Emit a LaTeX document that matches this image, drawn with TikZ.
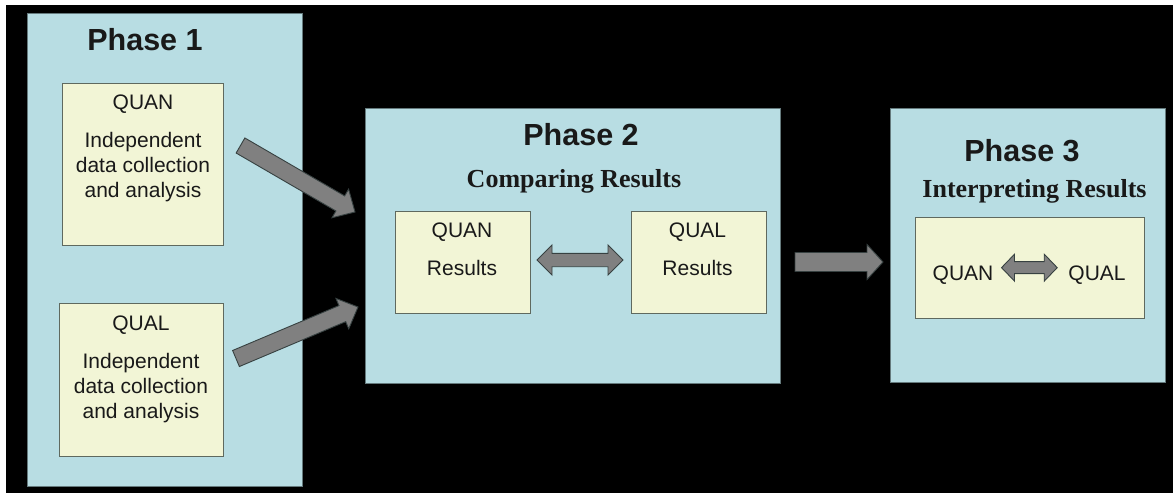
\documentclass[tikz,border=0pt]{standalone}
\usepackage{fontspec}
\setmainfont{Liberation Sans}
\newfontfamily\serifbf{Liberation Serif}
\usetikzlibrary{calc}
\definecolor{phasebg}{RGB}{184,221,227}
\definecolor{boxbg}{RGB}{242,245,214}
\definecolor{boxline}{RGB}{95,105,95}
\definecolor{arrowfill}{RGB}{128,128,128}
\definecolor{arrowline}{RGB}{55,65,65}
\definecolor{txt}{RGB}{25,25,25}
\tikzset{
 phasebox/.style={fill=phasebg, draw=phasebg!55!black, line width=0.6pt, inner sep=0pt},
 innerbox/.style={fill=boxbg, draw=boxline, line width=1pt, inner sep=0pt},
 phasetitle/.style={anchor=base, font=\fontsize{30.5}{36}\selectfont\bfseries, text=txt, inner sep=0pt},
 phasesub/.style={anchor=base, font=\fontsize{26}{30}\selectfont\serifbf\bfseries, text=txt, inner sep=0pt},
 txtlabel/.style={anchor=base, font=\fontsize{21}{25}\selectfont, text=txt, inner sep=0pt},
 fatarrow/.style={fill=arrowfill, draw=arrowline, line width=0.9pt, line join=miter},
}
% single fat arrow: #1 from, #2 to, #3 half shaft, #4 half head, #5 head length
\newcommand{\onearrow}[5]{%
  \coordinate (fac) at ($(#2)!#5!(#1)$);
  \draw[fatarrow] ($(#1)!#3!90:(#2)$) -- ($(fac)!#3!90:(#2)$) -- ($(fac)!#4!90:(#2)$) -- (#2)
    -- ($(fac)!#4!-90:(#2)$) -- ($(fac)!#3!-90:(#2)$) -- ($(#1)!#3!-90:(#2)$) -- cycle;}
% double fat arrow
\newcommand{\twoarrow}[5]{%
  \coordinate (fac) at ($(#2)!#5!(#1)$);
  \coordinate (fab) at ($(#1)!#5!(#2)$);
  \draw[fatarrow] (#1) -- ($(fab)!#4!90:(#2)$) -- ($(fab)!#3!90:(#2)$) -- ($(fac)!#3!90:(#2)$)
    -- ($(fac)!#4!90:(#2)$) -- (#2) -- ($(fac)!#4!-90:(#2)$) -- ($(fac)!#3!-90:(#2)$)
    -- ($(fab)!#3!-90:(#2)$) -- ($(fab)!#4!-90:(#2)$) -- cycle;}
\begin{document}
\begin{tikzpicture}[x=1pt,y=-1pt]
\useasboundingbox (0,0) rectangle (1173,493);
\fill[white] (0,0) rectangle (1173,493);
\fill[black] (6,5) rectangle (1173,493);

% Phase boxes
\node[phasebox, minimum width=275pt, minimum height=473pt] (p1) at (164.5,249.5) {};
\node[phasebox, minimum width=415pt, minimum height=275pt] (p2) at (572.5,245.5) {};
\node[phasebox, minimum width=275pt, minimum height=274pt] (p3) at (1027.5,245) {};

% Phase 1
\node[phasetitle] (t1) at (145,50) {Phase 1};
\node[innerbox, minimum width=161pt, minimum height=162pt] (quan1) at (142.5,164) {};
\node[txtlabel] (quan1a) at (143,109) {QUAN};
\node[txtlabel] (quan1b) at (143,147) {Independent};
\node[txtlabel] (quan1c) at (143,172) {data collection};
\node[txtlabel] (quan1d) at (143,197) {and analysis};
\node[innerbox, minimum width=164pt, minimum height=153pt] (qual1) at (141,379.5) {};
\node[txtlabel] (qual1a) at (141,330) {QUAL};
\node[txtlabel] (qual1b) at (141,368) {Independent};
\node[txtlabel] (qual1c) at (141,393) {data collection};
\node[txtlabel] (qual1d) at (141,418) {and analysis};

% Phase 2
\node[phasetitle] (t2) at (581,145) {Phase 2};
\node[phasesub] (s2) at (574,187) {Comparing Results};
\node[innerbox, minimum width=135pt, minimum height=102pt] (quan2) at (462.5,262) {};
\node[txtlabel] (quan2a) at (462,237) {QUAN};
\node[txtlabel] (quan2b) at (462,275) {Results};
\node[innerbox, minimum width=135pt, minimum height=102pt] (qual2) at (698.5,262) {};
\node[txtlabel] (qual2a) at (697.5,237) {QUAL};
\node[txtlabel] (qual2b) at (697.5,275) {Results};

% Phase 3
\node[phasetitle] (t3) at (1022,161) {Phase 3};
\node[phasesub] (s3) at (1034.5,197) {Interpreting Results};
\node[innerbox, minimum width=229pt, minimum height=101pt] (both3) at (1029.5,267.5) {};
\node[txtlabel] (quan3) at (963,280) {QUAN};
\node[txtlabel] (qual3) at (1097,280) {QUAL};

% arrows
\coordinate (a1s) at (240.5,145.5);
\coordinate (a1e) at (355,212);
\coordinate (a2s) at (236,358.5);
\coordinate (a2e) at (358,307);
\coordinate (a3s) at (795,262);
\coordinate (a3e) at (883,262);
\onearrow{a1s}{a1e}{8.7pt}{16.5pt}{17pt}
\onearrow{a2s}{a2e}{8.7pt}{16.5pt}{17pt}
\onearrow{a3s}{a3e}{9.5pt}{17.5pt}{16pt}

\coordinate (d1s) at (537,260);
\coordinate (d1e) at (623,260);
\coordinate (d2s) at ($(quan3.east)+(8,-7)$);
\coordinate (d2e) at ($(qual3.west)+(-11,-7)$);
\twoarrow{d1s}{d1e}{6.7pt}{15pt}{15pt}
\twoarrow{d2s}{d2e}{6pt}{13.5pt}{13pt}
\end{tikzpicture}
\end{document}
